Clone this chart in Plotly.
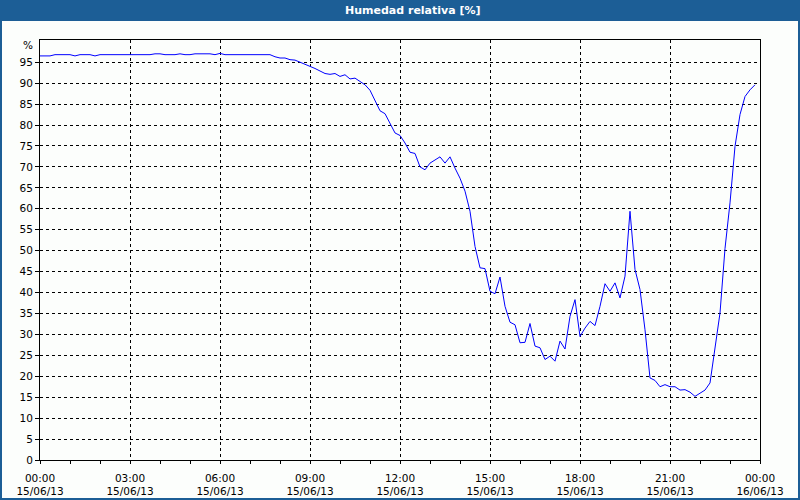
import pandas as pd
import plotly.graph_objects as go

# --- data: relative humidity every 10 minutes, 15/06/13 00:00 -> 23:50 ---
start_time = "2013-06-15 00:00"
step = "10min"
humidity = [
    96.5, 96.5, 96.5, 96.8, 96.8, 96.8, 96.8, 96.5, 96.8, 96.8,
    96.8, 96.5, 96.8, 96.8, 96.8, 96.8, 96.8, 96.8, 96.8, 96.8,
    96.8, 96.8, 96.8, 97.0, 97.0, 96.8, 96.8, 96.8, 97.0, 96.8,
    96.8, 97.0, 97.0, 97.0, 97.0, 96.8, 97.1, 96.8, 96.8, 96.8,
    96.8, 96.8, 96.8, 96.8, 96.8, 96.8, 96.8, 96.3, 96.0, 96.0,
    95.6, 95.5, 95.0, 94.6, 94.0, 93.5, 92.9, 92.3, 92.1, 92.3,
    91.6, 92.0, 91.0, 91.2, 90.4, 89.6, 88.3, 86.0, 83.4, 82.7,
    80.5, 78.1, 77.5, 75.7, 73.5, 73.2, 70.0, 69.3, 70.9, 71.6,
    72.4, 70.9, 72.4, 69.7, 67.3, 64.2, 59.4, 51.0, 45.9, 45.7,
    40.3, 39.7, 43.7, 36.7, 32.9, 32.3, 28.0, 28.1, 32.6, 27.2,
    26.8, 24.0, 24.8, 23.6, 28.4, 26.5, 34.3, 38.3, 29.5, 31.5,
    33.1, 32.1, 36.7, 42.1, 40.3, 42.3, 38.7, 43.9, 59.4, 45.5,
    40.7, 31.1, 19.6, 19.0, 17.5, 18.0, 17.5, 17.5, 16.7, 16.8,
    16.2, 15.2, 16.0, 16.7, 18.4, 26.5, 35.1, 50.5, 61.4, 74.9,
    82.5, 86.8, 88.4, 89.6,
]
times = pd.date_range(start_time, periods=len(humidity), freq=step)

x_tickvals = ["2013-06-15 00:00", "2013-06-15 03:00", "2013-06-15 06:00",
              "2013-06-15 09:00", "2013-06-15 12:00", "2013-06-15 15:00",
              "2013-06-15 18:00", "2013-06-15 21:00", "2013-06-16 00:00"]
x_ticktext = ["00:00<br>15/06/13", "03:00<br>15/06/13", "06:00<br>15/06/13",
              "09:00<br>15/06/13", "12:00<br>15/06/13", "15:00<br>15/06/13",
              "18:00<br>15/06/13", "21:00<br>15/06/13", "00:00<br>16/06/13"]
y_tickvals = list(range(0, 100, 5))
y_ticktext = [str(v) for v in y_tickvals]
y_unit_label = "%"
y_unit_value = 100

title_text = "Humedad relativa [%]"

BLUE_BAR = "#1c5e96"
BG = "#fcfefc"
FONT = "DejaVu Sans"

fig = go.Figure()
fig.add_trace(go.Scatter(
    x=times, y=humidity, mode="lines",
    line=dict(color="#0000ff", width=1),
    hoverinfo="x+y", showlegend=False,
))

fig.update_layout(
    width=800, height=500,
    margin=dict(l=40, r=40, t=40, b=40, autoexpand=False),
    paper_bgcolor=BLUE_BAR,
    plot_bgcolor=BG,
    font=dict(family=FONT, size=10.5, color="black"),
    showlegend=False,
    shapes=[dict(type="rect", xref="paper", yref="paper",
                 x0=(2 - 40) / 720, x1=(798 - 40) / 720,
                 y0=(460 - 498) / 420, y1=(460 - 21) / 420,
                 fillcolor=BG, line=dict(width=0), layer="below")],
    annotations=[
        dict(text="<b>" + title_text + "</b>", xref="paper", yref="paper",
             x=(413 - 40) / 720, y=(460 - 10.5) / 420,
             xanchor="center", yanchor="middle", showarrow=False,
             font=dict(family=FONT, size=11, color="white")),
        dict(text=y_unit_label, xref="paper", yref="y",
             x=0, y=y_unit_value, xanchor="right", yanchor="middle",
             xshift=-5, yshift=-4, showarrow=False,
             font=dict(family=FONT, size=10.5, color="black")),
    ],
)

fig.update_xaxes(
    type="date",
    range=["2013-06-15 00:00", "2013-06-16 00:00"],
    tickmode="array", tickvals=x_tickvals, ticktext=x_ticktext,
    ticks="outside", ticklen=3, tickcolor="black", tickwidth=1,
    ticklabelstandoff=5, automargin=False,
    showline=True, linecolor="black", linewidth=1, mirror=True,
    showgrid=True, gridcolor="black", gridwidth=1, griddash="3px,3px",
    minor=dict(dtick=3600000, ticks="outside", ticklen=3, tickcolor="black",
               showgrid=False),
    zeroline=False, fixedrange=True,
)
fig.update_yaxes(
    range=[0, 100.3],
    tickmode="array", tickvals=y_tickvals, ticktext=y_ticktext,
    ticks="outside", ticklen=4, tickcolor="black", tickwidth=1,
    automargin=False,
    showline=True, linecolor="black", linewidth=1, mirror=True,
    showgrid=True, gridcolor="black", gridwidth=1, griddash="3px,3px",
    zeroline=False, fixedrange=True,
)

fig.write_html("out.html")
